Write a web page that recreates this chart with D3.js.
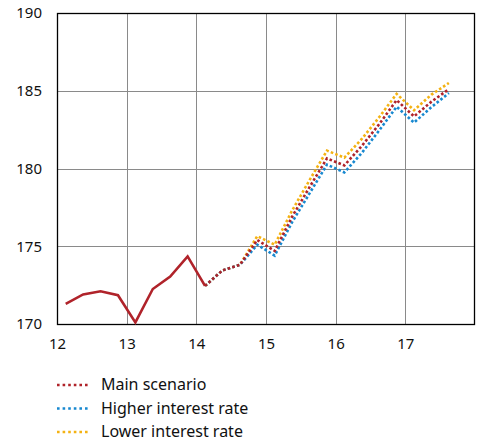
<!DOCTYPE html>
<html>
<head>
<meta charset="utf-8">
<script src="https://cdn.jsdelivr.net/npm/d3@7"></script>
<style>
  html, body { margin: 0; padding: 0; background: #fff; }
  svg { display: block; font-family: "Noto Sans", "Open Sans", sans-serif; }
</style>
</head>
<body>
<svg id="chart" width="481" height="443"></svg>
<script>
// Quarterly observations, positioned at mid-quarter (year + 0.125, 0.375, ...)
const historyX = [12.125, 12.375, 12.625, 12.875, 13.125, 13.375, 13.625, 13.875, 14.125];
const historyY = [171.3, 171.9, 172.1, 171.85, 170.1, 172.25, 173.05, 174.35, 172.45];

const projX = [14.125, 14.375, 14.625, 14.875, 15.125, 15.375, 15.625, 15.875,
               16.125, 16.375, 16.625, 16.875, 17.125, 17.375, 17.625];
const mainScenario = [172.45, 173.45, 173.8, 175.4, 174.7, 176.9, 178.8, 180.65,
                      180.2, 181.45, 182.85, 184.4, 183.35, 184.3, 185.1];
const higherRate   = [172.45, 173.45, 173.8, 175.1, 174.4, 176.55, 178.4, 180.25,
                      179.75, 181.0, 182.45, 183.97, 182.95, 183.95, 184.85];
const lowerRate    = [172.45, 173.45, 173.8, 175.65, 175.1, 177.3, 179.25, 181.15,
                      180.7, 181.9, 183.3, 184.8, 183.75, 184.75, 185.5];

const xTicks = [12, 13, 14, 15, 16, 17];
const yTicks = [170, 175, 180, 185, 190];
const seriesNames = ["Main scenario", "Higher interest rate", "Lower interest rate"];
const seriesColors = ["#b0232a", "#1788d0", "#f4b213"];

const svg = d3.select("#chart");
const plot = { left: 57, right: 475, top: 13, bottom: 324 };

const x = d3.scaleLinear().domain([12, 18]).range([plot.left, plot.right]);
const y = d3.scaleLinear().domain([170, 190]).range([plot.bottom, plot.top]);

// grid
const grid = svg.append("g");
grid.selectAll("line.v").data(xTicks.slice(1)).join("line")
  .attr("x1", d => Math.round(x(d)) + 0.5).attr("x2", d => Math.round(x(d)) + 0.5)
  .attr("y1", plot.top).attr("y2", plot.bottom)
  .attr("stroke", "#8a8a8a").attr("stroke-width", 1);
grid.selectAll("line.h").data(yTicks.slice(1, -1)).join("line")
  .attr("y1", d => Math.round(y(d)) + 0.5).attr("y2", d => Math.round(y(d)) + 0.5)
  .attr("x1", plot.left).attr("x2", plot.right)
  .attr("stroke", "#8a8a8a").attr("stroke-width", 1);

// frame
svg.append("rect")
  .attr("x", plot.left + 0.5).attr("y", plot.top + 0.5)
  .attr("width", plot.right - plot.left - 1).attr("height", plot.bottom - plot.top)
  .attr("fill", "none").attr("stroke", "#000").attr("stroke-width", 1.3);

// axes (labels only)
const xAxis = svg.append("g")
  .attr("transform", `translate(0,${plot.bottom})`)
  .call(d3.axisBottom(x).tickValues(xTicks).tickSize(0).tickPadding(14).tickFormat(d3.format("d")));
const yAxis = svg.append("g")
  .attr("transform", `translate(${plot.left},0)`)
  .call(d3.axisLeft(y).tickValues(yTicks).tickSize(0).tickPadding(15).tickFormat(d3.format("d")));
[xAxis, yAxis].forEach(a => {
  a.select(".domain").remove();
  a.selectAll("text").attr("font-size", 15).attr("fill", "#111")
    .attr("font-family", "'Noto Sans', 'Open Sans', sans-serif");
});

const line = d3.line().x(d => x(d[0])).y(d => y(d[1]));

// projections (dotted)
const proj = [mainScenario, higherRate, lowerRate];
[2, 1, 0].forEach(i => {
  svg.append("path")
    .attr("d", line(d3.zip(projX, proj[i])))
    .attr("fill", "none")
    .attr("stroke", seriesColors[i])
    .attr("stroke-width", 2.6)
    .attr("stroke-dasharray", "2.6 2.2");
});

// history (solid)
svg.append("path")
  .attr("d", line(d3.zip(historyX, historyY)))
  .attr("fill", "none")
  .attr("stroke", seriesColors[0])
  .attr("stroke-width", 2.6)
  .attr("stroke-linejoin", "miter");

// legend
const legend = svg.append("g");
seriesNames.forEach((name, i) => {
  const ly = 385 + i * 23.5;
  legend.append("line")
    .attr("x1", 57).attr("x2", 90).attr("y1", ly).attr("y2", ly)
    .attr("stroke", seriesColors[i]).attr("stroke-width", 2.6)
    .attr("stroke-dasharray", "2.6 3");
  legend.append("text")
    .attr("x", 101).attr("y", ly).attr("dy", "0.33em")
    .attr("font-size", 16).attr("fill", "#111")
    .text(name);
});
</script>
</body>
</html>
